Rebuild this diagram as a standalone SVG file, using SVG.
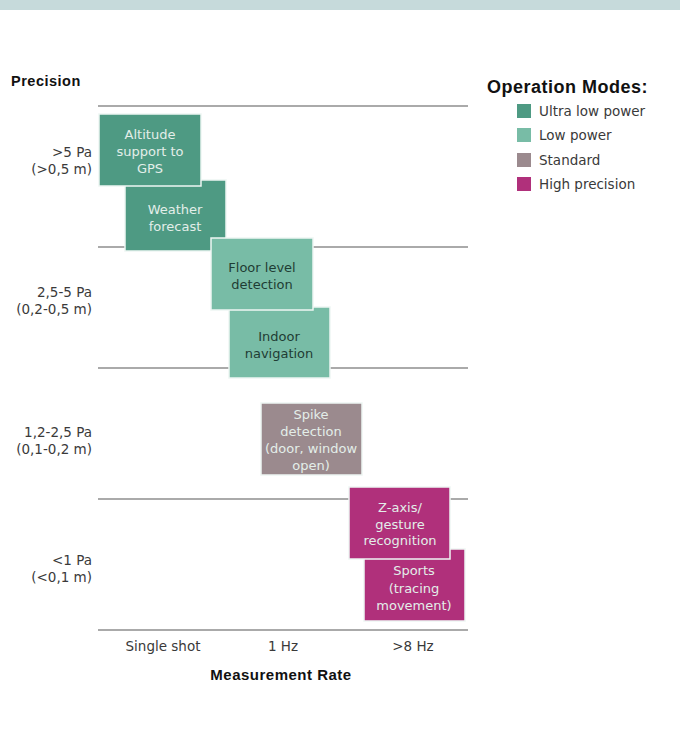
<svg xmlns="http://www.w3.org/2000/svg" width="680" height="729" viewBox="0 0 680 729">
<style>
  .lbl{font-family:"DejaVu Sans",Verdana,sans-serif;font-size:13.5px;fill:#3a3a3a}
  .hd{font-family:"Liberation Sans",Arial,sans-serif;font-weight:bold;fill:#111;letter-spacing:0.5px}
  .bt{font-family:"DejaVu Sans",Verdana,sans-serif;font-size:13px;text-anchor:middle}
  .light{fill:#e3eee9}
  .dark{fill:#1f3d34}
  .grid{stroke:#8e8e8e;stroke-width:1.3}
  .box{stroke:#eef6f3;stroke-width:1.5}
  .ulp{fill:#4e9a83}
  .lp{fill:#78bca6}
  .std{fill:#9b8a8e}
  .hp{fill:#b0307b}
</style>
<rect width="680" height="729" fill="#ffffff"/>
<rect width="680" height="10" fill="#c6dadb"/>

<g id="axes">
  <text class="hd" x="11" y="86" font-size="14.5">Precision</text>
  <g class="lbl" text-anchor="end">
    <text x="92" y="157">&gt;5 Pa</text>
    <text x="92" y="174">(&gt;0,5 m)</text>
    <text x="92" y="297">2,5-5 Pa</text>
    <text x="92" y="314">(0,2-0,5 m)</text>
    <text x="92" y="437">1,2-2,5 Pa</text>
    <text x="92" y="454">(0,1-0,2 m)</text>
    <text x="92" y="565">&lt;1 Pa</text>
    <text x="92" y="582">(&lt;0,1 m)</text>
  </g>
  <g class="lbl" text-anchor="middle">
    <text x="163" y="651">Single shot</text>
    <text x="283" y="651">1 Hz</text>
    <text x="413" y="651">&gt;8 Hz</text>
  </g>
  <text class="hd" x="281" y="680" font-size="15" text-anchor="middle">Measurement Rate</text>
</g>

<g id="grid">
  <line class="grid" x1="98" y1="106" x2="468" y2="106"/>
  <line class="grid" x1="98" y1="247" x2="468" y2="247"/>
  <line class="grid" x1="98" y1="368" x2="468" y2="368"/>
  <line class="grid" x1="98" y1="499" x2="468" y2="499"/>
  <line class="grid" x1="98" y1="630" x2="468" y2="630"/>
</g>

<g id="weather">
  <rect class="box ulp" x="125" y="180" width="101" height="71"/>
  <text class="bt light" x="175" y="214">Weather</text>
  <text class="bt light" x="175" y="231">forecast</text>
</g>
<g id="altitude">
  <rect class="box ulp" x="99" y="114" width="102" height="72"/>
  <text class="bt light" x="150" y="139">Altitude</text>
  <text class="bt light" x="150" y="156">support to</text>
  <text class="bt light" x="150" y="173">GPS</text>
</g>
<g id="indoor">
  <rect class="box lp" x="229" y="307" width="101" height="71"/>
  <text class="bt dark" x="279" y="341">Indoor</text>
  <text class="bt dark" x="279" y="358">navigation</text>
</g>
<g id="floor">
  <rect class="box lp" x="211" y="238" width="102" height="72"/>
  <text class="bt dark" x="262" y="272">Floor level</text>
  <text class="bt dark" x="262" y="289">detection</text>
</g>
<g id="spike">
  <rect class="box std" x="261" y="403" width="101" height="72"/>
  <text class="bt light" x="311" y="419">Spike</text>
  <text class="bt light" x="311" y="436">detection</text>
  <text class="bt light" x="311" y="453">(door, window</text>
  <text class="bt light" x="311" y="470">open)</text>
</g>
<g id="sports">
  <rect class="box hp" x="364" y="549" width="101" height="72"/>
  <text class="bt light" x="414" y="575">Sports</text>
  <text class="bt light" x="414" y="593">(tracing</text>
  <text class="bt light" x="414" y="610">movement)</text>
</g>
<g id="zaxis">
  <rect class="box hp" x="349" y="487" width="101" height="72"/>
  <text class="bt light" x="400" y="512">Z-axis/</text>
  <text class="bt light" x="400" y="529">gesture</text>
  <text class="bt light" x="400" y="545">recognition</text>
</g>

<g id="legend">
  <text class="hd" x="487" y="93" font-size="18">Operation Modes:</text>
  <rect class="ulp" x="517" y="104" width="14" height="14"/>
  <text class="lbl" x="539" y="116">Ultra low power</text>
  <rect class="lp" x="517" y="128" width="14" height="14"/>
  <text class="lbl" x="539" y="140">Low power</text>
  <rect class="std" x="517" y="153" width="14" height="14"/>
  <text class="lbl" x="539" y="165">Standard</text>
  <rect class="hp" x="517" y="177" width="14" height="14"/>
  <text class="lbl" x="539" y="189">High precision</text>
</g>
</svg>
